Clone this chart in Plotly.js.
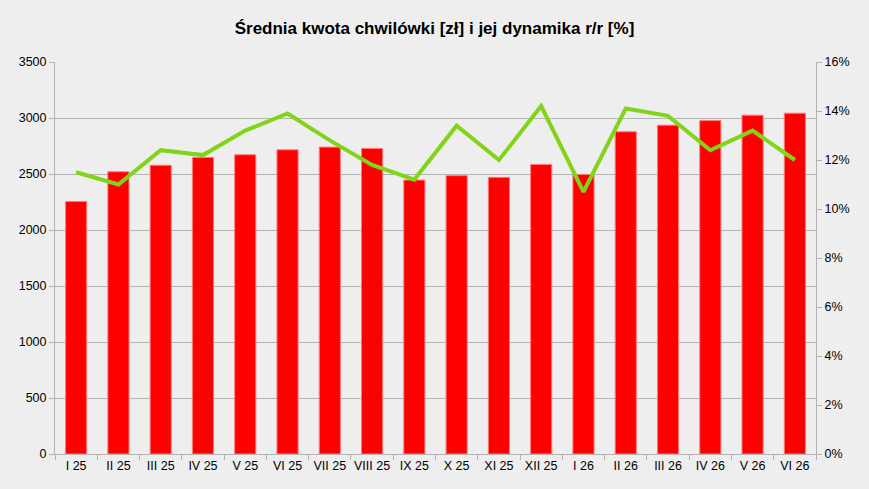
<!DOCTYPE html>
<html>
<head>
<meta charset="utf-8">
<script src="https://cdn.plot.ly/plotly-3.0.1.min.js"></script>
<style>
  html, body { margin: 0; padding: 0; background: #eeeeee; }
  #chart { width: 869px; height: 489px; }
</style>
</head>
<body>
<div id="chart"></div>
<script>
// miesiace
const months = ["I 25", "II 25", "III 25", "IV 25", "V 25", "VI 25", "VII 25", "VIII 25", "IX 25",
                "X 25", "XI 25", "XII 25", "I 26", "II 26", "III 26", "IV 26", "V 26", "VI 26"];

// srednia kwota [zl]
const avgAmount = [2255, 2520, 2578, 2648, 2672, 2716, 2740, 2728, 2446,
                   2485, 2470, 2585, 2496, 2877, 2936, 2977, 3025, 3043];

// dynamika r/r [%]
const yoyChange = [11.5, 11.0, 12.4, 12.2, 13.2, 13.9, 12.8, 11.8, 11.2,
                   13.4, 12.0, 14.2, 10.7, 14.1, 13.8, 12.4, 13.2, 12.0];

const font = "'Liberation Sans', Arial, sans-serif";

const bars = {
  x: months,
  y: avgAmount,
  type: 'bar',
  marker: { color: '#ff0000', line: { color: '#ff7b7b', width: 1 } },
  showlegend: false
};

// procenty na osi prawej jako ulamki
const line = {
  x: months,
  y: yoyChange.map(v => v / 100),
  yaxis: 'y2',
  type: 'scatter',
  mode: 'lines',
  line: { color: '#81d41a', width: 4 },
  showlegend: false
};

const layout = {
  width: 869,
  height: 489,
  paper_bgcolor: '#eeeeee',
  plot_bgcolor: '#eeeeee',
  margin: { l: 55, r: 53, t: 62, b: 35 },
  font: { family: font, size: 12.5, color: '#000' },
  title: {
    text: '<b>Średnia kwota chwilówki [zł] i jej dynamika r/r [%]</b>',
    font: { family: font, size: 17, color: '#000' },
    x: 0.5, xanchor: 'center',
    y: 0.942, yanchor: 'middle'
  },
  bargap: 0.5,
  xaxis: {
    type: 'category',
    tickangle: 0,
    showgrid: false,
    showline: true, linecolor: '#b3b3b3', linewidth: 1,
    ticks: 'outside', tickson: 'boundaries', ticklen: 5, tickcolor: '#b3b3b3',
    zeroline: false
  },
  yaxis: {
    range: [0, 3500],
    dtick: 500,
    showgrid: true, gridcolor: '#b3b3b3', gridwidth: 1,
    showline: true, linecolor: '#b3b3b3', linewidth: 1,
    ticks: 'outside', ticklen: 5, tickcolor: '#b3b3b3',
    zeroline: false
  },
  yaxis2: {
    overlaying: 'y',
    side: 'right',
    range: [0, 0.16],
    dtick: 0.02,
    tickformat: '.0%',
    showgrid: false,
    showline: true, linecolor: '#b3b3b3', linewidth: 1,
    ticks: 'outside', ticklen: 5, tickcolor: '#b3b3b3',
    zeroline: false
  }
};

Plotly.newPlot('chart', [bars, line], layout, { displayModeBar: false, staticPlot: true });
</script>
</body>
</html>
